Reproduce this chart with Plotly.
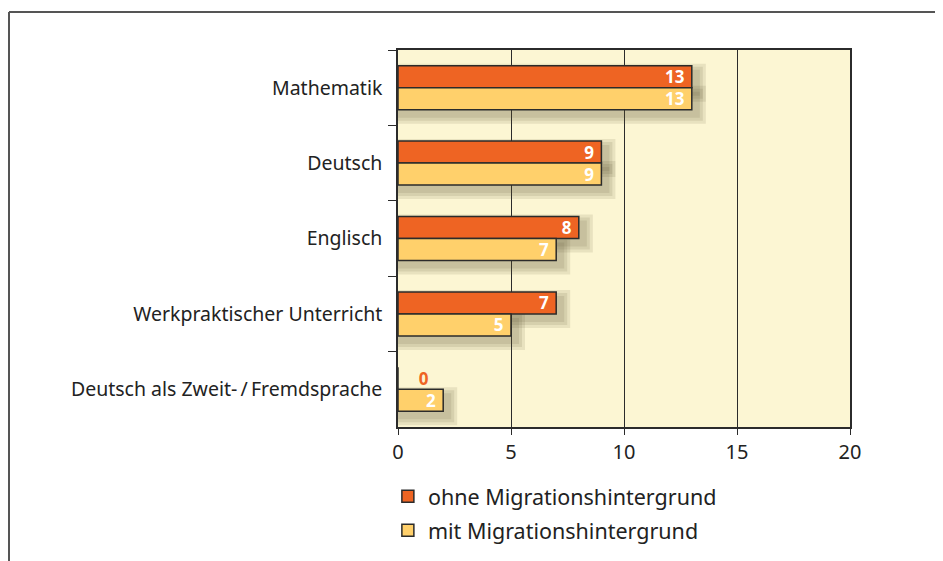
import plotly.graph_objects as go

categories = ["Mathematik", "Deutsch", "Englisch", "Werkpraktischer Unterricht",
              "Deutsch als Zweit-\u2009/\u2009Fremdsprache"]
ohne = [13, 9, 8, 7, 0]
mit = [13, 9, 7, 5, 2]
series_names = ["ohne Migrationshintergrund", "mit Migrationshintergrund"]
x_ticks = [0, 5, 10, 15, 20]

ORANGE = "#EE6423"
YELLOW = "#FFD06B"
DARK = "#2b2b2b"
FONT = "Noto Sans"

# plot geometry (figure pixels)
L, R, T, B = 390, 101, 42, 142
PW, PH = 943 - L - R, 561 - T - B
PX_X = 20 / PW            # x data units per pixel
PX_Y = len(categories) / PH  # category units per pixel
W = 22 * PX_Y             # bar thickness in category units

def positions(vals):
    return ["outside" if v == 0 else "inside" for v in vals]

def labels(vals):
    return [("\u00a0\u00a0\u00a0\u00a0" + str(v)) if v == 0 else (str(v) + "\u00a0") for v in vals]

fig = go.Figure()

# soft drop shadows
series = [(series_names[0], ohne, ORANGE, -W), (series_names[1], mit, YELLOW, 0.0)]
for name, vals, col, off in series:
    for r in (8, 5, 2):
        fig.add_trace(go.Bar(
            y=categories,
            x=[(v + (6 + r) * PX_X) if v > 0 else 0 for v in vals],
            orientation="h", offset=off + (6 - r) * PX_Y, width=W + 2 * r * PX_Y,
            marker=dict(color="rgba(90,80,50,0.12)", line=dict(width=0)),
            showlegend=False, hoverinfo="skip",
        ))

for i, (name, vals, col, off) in enumerate(series):
    fig.add_trace(go.Bar(
        y=categories, x=vals, orientation="h", name=name,
        legendgroup=str(i), offset=off, width=W,
        marker=dict(color=col, line=dict(color=DARK, width=1.5)),
        text=labels(vals), textposition=positions(vals), textangle=0,
        insidetextanchor="end", cliponaxis=False,
        insidetextfont=dict(family=FONT, size=17, color="white", weight="bold"),
        outsidetextfont=dict(family=FONT, size=17, color=ORANGE, weight="bold"),
        constraintext="none",
    ))

fig.update_layout(
    width=943, height=561,
    margin=dict(l=L, r=R, t=T, b=B, autoexpand=False),
    paper_bgcolor="white", plot_bgcolor="#FCF6D3",
    barmode="overlay",
    font=dict(family=FONT, size=18, color="#222"),
    showlegend=True,
    legend=dict(x=-0.0224, xanchor="left", y=-0.1294, yanchor="top",
                orientation="v", traceorder="grouped", tracegroupgap=3,
                font=dict(family=FONT, size=21.5, color="#222"),
                itemwidth=30, bgcolor="rgba(0,0,0,0)"),
    xaxis=dict(range=[0, 20], tickvals=x_ticks, ticktext=[str(t) for t in x_ticks],
               showgrid=True, gridcolor=DARK, gridwidth=1.2,
               showline=True, linecolor=DARK, linewidth=1.5, mirror=True,
               ticks="outside", ticklen=6, tickcolor=DARK,
               tickfont=dict(size=20), zeroline=False, fixedrange=True),
    yaxis=dict(type="category", autorange="reversed", tickson="boundaries",
               showgrid=False, showline=True, linecolor=DARK, linewidth=1.5,
               mirror=True, ticks="outside", ticklen=8, tickcolor=DARK,
               ticklabelstandoff=10, tickfont=dict(size=19.5), fixedrange=True),
)

# outer frame lines (top and left)
fx0 = (1 - L) / PW
fy1 = 1 + (T - 4) / PH
fig.add_shape(type="line", xref="paper", yref="paper", x0=fx0, x1=(943 - L) / PW,
              y0=fy1, y1=fy1, line=dict(color="#555", width=2))
fig.add_shape(type="line", xref="paper", yref="paper", x0=fx0, x1=fx0,
              y0=fy1, y1=-(B / PH), line=dict(color="#555", width=2))

fig.write_html("out.html")
